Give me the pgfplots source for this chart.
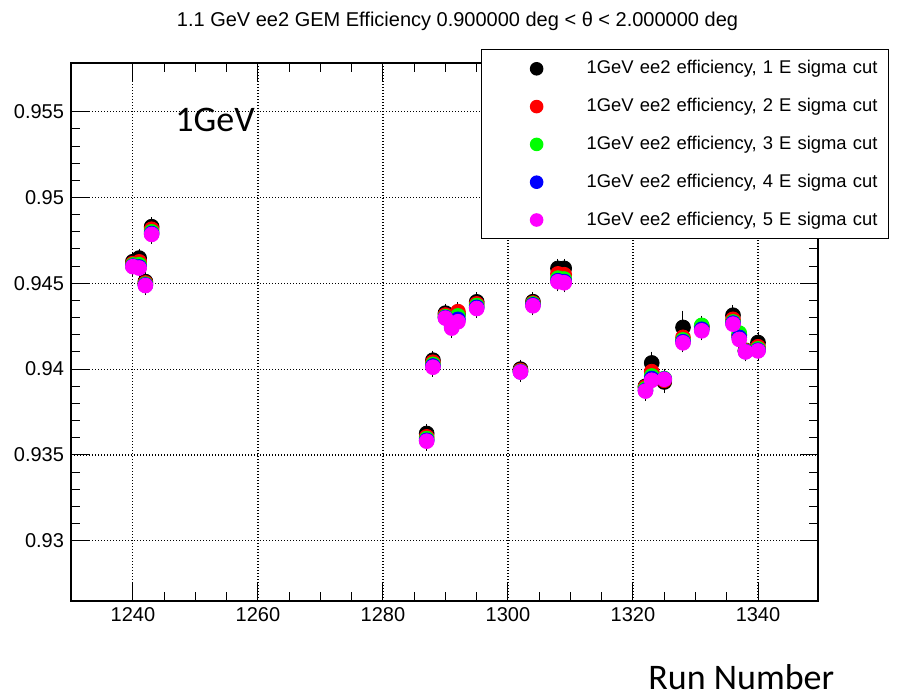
\documentclass[border=0pt]{standalone}
\usepackage{pgfplots}
\usepackage{pgfplotstable}
\pgfplotsset{compat=1.18}
\usepackage{fontspec}
\setmainfont{Liberation Sans}
\newfontfamily\bigfont{Carlito}

\pgfplotstableread{
run   b        eb      r        er      g        eg      bl       ebl     m        em
1240  0.94626  0.00030 0.94615  0.00030 0.94607  0.00030 0.94600  0.00030 0.94597  0.00030
1241  0.94647  0.00030 0.94625  0.00030 0.94608  0.00030 0.94595  0.00030 0.94589  0.00030
1242  0.94510  0.00030 0.94502  0.00030 0.94495  0.00030 0.94490  0.00030 0.94487  0.00030
1243  0.94830  0.00030 0.94815  0.00030 0.94800  0.00030 0.94790  0.00030 0.94785  0.00030
1287  0.93625  0.00030 0.93605  0.00030 0.93595  0.00030 0.93585  0.00030 0.93580  0.00030
1288  0.94052  0.00030 0.94040  0.00030 0.94028  0.00030 0.94018  0.00030 0.94011  0.00030
1290  0.94326  0.00030 0.94315  0.00030 0.94305  0.00030 0.94300  0.00030 0.94297  0.00030
1291  0.94270  0.00030 0.94262  0.00030 0.94252  0.00030 0.94245  0.00030 0.94239  0.00030
1292  0.94320  0.00030 0.94335  0.00030 0.94310  0.00030 0.94290  0.00030 0.94276  0.00030
1295  0.94392  0.00030 0.94380  0.00030 0.94370  0.00030 0.94360  0.00030 0.94353  0.00030
1302  0.94000  0.00030 0.93992  0.00030 0.93987  0.00030 0.93984  0.00030 0.93983  0.00030
1304  0.94393  0.00030 0.94385  0.00030 0.94380  0.00030 0.94374  0.00030 0.94369  0.00030
1308  0.94587  0.00030 0.94555  0.00030 0.94530  0.00030 0.94515  0.00030 0.94509  0.00030
1309  0.94587  0.00030 0.94550  0.00030 0.94525  0.00030 0.94510  0.00030 0.94503  0.00030
1322  0.93900  0.00030 0.93895  0.00030 0.93885  0.00030 0.93875  0.00030 0.93872  0.00030
1323  0.94036  0.00040 0.93985  0.00030 0.93960  0.00030 0.93945  0.00030 0.93935  0.00030
1325  0.93925  0.00040 0.93935  0.00030 0.93945  0.00030 0.93942  0.00030 0.93941  0.00030
1328  0.94243  0.00072 0.94185  0.00030 0.94170  0.00030 0.94160  0.00030 0.94153  0.00030
1331  0.94246  0.00030 0.94250  0.00030 0.94255  0.00030 0.94232  0.00030 0.94223  0.00030
1336  0.94314  0.00035 0.94290  0.00030 0.94275  0.00030 0.94268  0.00030 0.94262  0.00030
1337  0.94200  0.00030 0.94195  0.00030 0.94210  0.00030 0.94185  0.00030 0.94173  0.00030
1338  0.94110  0.00030 0.94108  0.00030 0.94105  0.00030 0.94102  0.00030 0.94100  0.00030
1340  0.94155  0.00035 0.94130  0.00030 0.94118  0.00030 0.94110  0.00030 0.94106  0.00030
}\datatab

\definecolor{rootred}{RGB}{255,0,0}
\definecolor{rootgreen}{RGB}{0,255,0}
\definecolor{rootblue}{RGB}{0,0,255}
\definecolor{rootmag}{RGB}{255,0,255}

\begin{document}
\begin{tikzpicture}
\begin{axis}[
  name=ax,
  scale only axis,
  width=373.5pt, height=268.85pt,
  xmin=1230.1, xmax=1349.6,
  ymin=0.9265035, ymax=0.957838,
  xtick={1240,1260,1280,1300,1320,1340},
  xticklabels={1240,1260,1280,1300,1320,1340},
  ytick={0.93,0.935,0.94,0.945,0.95,0.955},
  yticklabels={0.93,0.935,0.94,0.945,0.95,0.955},
  minor x tick num=3,
  minor y tick num=4,
  tick align=inside,
  major tick length=9pt,
  minor tick length=4.5pt,
  every tick/.style={black, line width=0.5pt},
  axis line style={line width=0.9pt},
  grid=major,
  major grid style={black, line width=0.6pt, dash pattern=on 0.6pt off 0.9pt},
  tick label style={font=\fontsize{10}{12}\selectfont},
  /pgf/number format/assume math mode=true,
  legend style={at={(0.5489,1.0255)}, anchor=north west, draw=black, line width=0.6pt,
    fill=white, inner xsep=0pt, inner ysep=0pt, row sep=0pt,
    font=\fontsize{9.2}{11}\selectfont,
    nodes={inner xsep=0pt, inner ysep=0pt, text width=151pt, align=left}},
  legend cell align=left,
  legend image code/.code={
    \path[draw=none, fill=none] (0pt,-9.45pt) rectangle (52.5pt,9.45pt);
    \fill[#1, draw=none] (27.5pt,0pt) circle (3.4pt);
  },
  error bars/y dir=both,
  error bars/y explicit,
  error bars/error mark=-,
  error bars/error mark options={black, mark size=2.2pt, line width=0.5pt},
  error bars/error bar style={black, line width=0.5pt},
]
\addplot[only marks, mark=*, mark size=3.7pt, black, mark options={fill=black, draw=black}]
  table[x=run, y=b, y error=eb] {\datatab};
\addlegendentry{1GeV ee2 efficiency, 1 E sigma cut}
\addplot[only marks, mark=*, mark size=3.7pt, rootred, mark options={fill=rootred, draw=rootred}]
  table[x=run, y=r, y error=er] {\datatab};
\addlegendentry{1GeV ee2 efficiency, 2 E sigma cut}
\addplot[only marks, mark=*, mark size=3.7pt, rootgreen, mark options={fill=rootgreen, draw=rootgreen}]
  table[x=run, y=g, y error=eg] {\datatab};
\addlegendentry{1GeV ee2 efficiency, 3 E sigma cut}
\addplot[only marks, mark=*, mark size=3.7pt, rootblue, mark options={fill=rootblue, draw=rootblue}]
  table[x=run, y=bl, y error=ebl] {\datatab};
\addlegendentry{1GeV ee2 efficiency, 4 E sigma cut}
\addplot[only marks, mark=*, mark size=3.7pt, rootmag, mark options={fill=rootmag, draw=rootmag}]
  table[x=run, y=m, y error=em] {\datatab};
\addlegendentry{1GeV ee2 efficiency, 5 E sigma cut}
\end{axis}
\node[anchor=base, inner sep=0pt, font=\fontsize{10}{12}\selectfont]
  at ([shift={(193.25pt,18pt)}]ax.north west)
  {1.1 GeV ee2 GEM Efficiency 0.900000 deg < θ < 2.000000 deg};
\node[anchor=base west, inner sep=0pt, font=\bigfont\fontsize{18}{20}\selectfont]
  at ([shift={(52pt,-34.35pt)}]ax.north west) {1GeV};
\node[anchor=base west, inner sep=0pt, font=\bigfont\fontsize{18}{20}\selectfont]
  at ([shift={(288.5pt,-44.6pt)}]ax.south west) {Run Number};
\path[use as bounding box] ([shift={(-35.5pt,-48.15pt)}]ax.south west) rectangle ([shift={(42.5pt,31.5pt)}]ax.north east);
\end{tikzpicture}
\end{document}
